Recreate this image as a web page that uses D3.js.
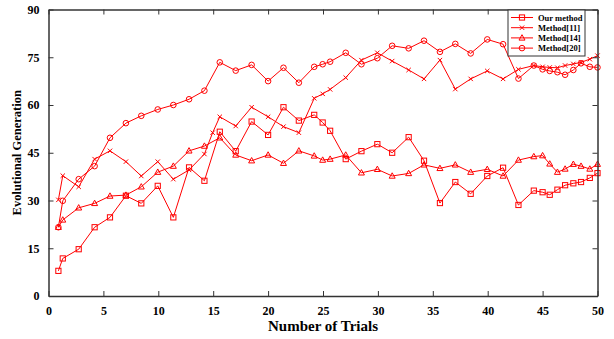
<!DOCTYPE html>
<html><head><meta charset="utf-8">
<script src="https://cdn.jsdelivr.net/npm/d3@7"></script>
<style>body{margin:0;background:#fff}svg{display:block}</style>
</head><body>
<svg id="c" width="614" height="339"></svg>
<script>
const trials = [0.9,1.3,2.75,4.2,5.6,7.05,8.45,9.95,11.37,12.8,14.2,15.6,17.05,18.5,20.0,21.4,22.8,24.2,24.97,25.65,27.07,28.5,29.95,31.3,32.8,34.2,35.65,37.05,38.45,39.96,41.4,42.8,44.2,45.0,45.65,46.35,47.05,47.8,48.5,49.3,50.0];
const trials11 = [0.9,1.3,2.75,4.2,5.6,7.05,8.45,9.95,11.37,12.8,14.2,14.95,15.6,17.05,18.5,20.0,21.4,22.8,24.2,24.97,25.65,27.07,28.5,29.95,31.3,32.8,34.2,35.65,37.05,38.45,39.96,41.4,42.8,44.2,45.0,45.65,46.35,47.05,47.8,48.5,49.3,50.0];
const ourMethod = [7.9,11.8,14.7,21.6,24.7,31.5,29.1,34.6,24.7,40.4,36.2,51.6,45.5,54.8,50.6,59.3,55.1,56.9,54.5,51.9,43.0,45.5,47.7,45.0,49.9,42.5,29.2,35.8,32.1,37.7,40.3,28.6,33.1,32.6,31.8,33.4,34.8,35.4,35.8,37.1,38.6];
const method11 = [30.2,37.8,34.3,43.0,45.6,42.2,37.7,42.2,36.7,39.6,44.6,51.3,56.3,53.4,59.3,56.3,53.2,51.3,62.1,63.5,64.9,68.6,74.1,76.4,73.8,71.0,68.2,74.1,65.0,68.2,70.7,68.2,71.2,72.4,72.0,71.8,71.7,72.4,72.9,73.4,74.4,75.5];
const method14 = [21.6,23.9,27.7,29.1,31.4,31.7,34.3,38.9,40.8,45.6,47.1,49.7,44.3,42.5,44.3,41.7,45.6,44.0,42.7,43.0,44.3,38.7,39.8,37.7,38.5,41.2,40.1,41.2,38.9,39.8,37.7,42.7,43.8,44.1,41.5,38.9,39.9,41.4,40.8,39.9,41.4];
const method20 = [21.6,29.9,36.7,40.8,49.7,54.3,56.6,58.6,60.0,61.8,64.5,73.4,70.8,72.6,67.5,71.7,67.0,72.0,72.8,73.6,76.4,72.8,74.7,78.6,77.8,80.2,76.7,79.2,76.2,80.6,79.1,68.3,72.4,71.2,70.7,70.3,69.5,71.0,73.1,72.0,71.8];
const seriesNames = ["Our method","Method[11]","Method[14]","Method[20]"];
const xTicks = [0,5,10,15,20,25,30,35,40,45,50];
const yTicks = [0,15,30,45,60,75,90];

const svg = d3.select("#c");
const L=48.5, R=597.5, T=9.5, B=296;
const x = d3.scaleLinear().domain([0,50]).range([L,R]);
const y = d3.scaleLinear().domain([0,90]).range([B,T]);
const red = "#ff0000";
const font = "'Liberation Serif','Times New Roman',serif";

const series = [
  {name:seriesNames[0], xs:trials, ys:ourMethod, m:"square"},
  {name:seriesNames[1], xs:trials11, ys:method11, m:"cross"},
  {name:seriesNames[2], xs:trials, ys:method14, m:"triangle"},
  {name:seriesNames[3], xs:trials, ys:method20, m:"circle"}
];

function marker(g, type, cx, cy){
  if(type==="square") g.append("rect").attr("x",cx-2.6).attr("y",cy-2.6).attr("width",5.2).attr("height",5.2).attr("fill","none").attr("stroke",red).attr("stroke-width",1);
  else if(type==="circle") g.append("circle").attr("cx",cx).attr("cy",cy).attr("r",2.8).attr("fill","none").attr("stroke",red).attr("stroke-width",1);
  else if(type==="triangle") g.append("path").attr("d",`M${cx},${cy-3.2}L${cx+3},${cy+2.2}L${cx-3},${cy+2.2}Z`).attr("fill","none").attr("stroke",red).attr("stroke-width",1);
  else g.append("path").attr("d",`M${cx-2.2},${cy-2.2}L${cx+2.2},${cy+2.2}M${cx-2.2},${cy+2.2}L${cx+2.2},${cy-2.2}`).attr("stroke",red).attr("stroke-width",1);
}

const line = d3.line();
series.forEach(s=>{
  const pts = s.xs.map((v,i)=>[x(v), y(s.ys[i])]);
  svg.append("path").attr("d",line(pts)).attr("fill","none").attr("stroke",red).attr("stroke-width",1);
  const g = svg.append("g");
  pts.forEach(p=>marker(g,s.m,p[0],p[1]));
});

// axes with inward ticks
const frame = "#333";
const xa = svg.append("g").attr("transform",`translate(0,${B})`).call(d3.axisBottom(x).tickValues(xTicks).tickSizeInner(-5).tickSizeOuter(0).tickPadding(10));
const xt = svg.append("g").attr("transform",`translate(0,${T})`).call(d3.axisTop(x).tickValues(xTicks).tickSizeInner(-5).tickSizeOuter(0).tickFormat(""));
const yl = svg.append("g").attr("transform",`translate(${L},0)`).call(d3.axisLeft(y).tickValues(yTicks).tickSizeInner(-5).tickSizeOuter(0).tickPadding(9));
const yr = svg.append("g").attr("transform",`translate(${R},0)`).call(d3.axisRight(y).tickValues(yTicks).tickSizeInner(-5).tickSizeOuter(0).tickFormat(""));
[xa,xt,yl,yr].forEach(a=>{
  a.select(".domain").attr("stroke",frame).attr("stroke-width",1.5);
  a.selectAll(".tick line").attr("stroke",frame).attr("stroke-width",1);
  a.selectAll("text").attr("font-family",font).attr("font-weight","bold").attr("font-size",12).attr("fill","#000");
});

svg.append("text").attr("x",(L+R)/2).attr("y",331).attr("text-anchor","middle")
  .attr("font-family",font).attr("font-weight","bold").attr("font-size",15).text("Number of Trials");
svg.append("text").attr("transform",`translate(21,${(T+B)/2}) rotate(-90)`).attr("text-anchor","middle")
  .attr("font-family",font).attr("font-weight","bold").attr("font-size",12.5).text("Evolutional  Generation");

// legend
const lg = svg.append("g");
lg.append("rect").attr("x",508).attr("y",10).attr("width",77).attr("height",46).attr("fill","#fff").attr("stroke","#333").attr("stroke-width",1);
series.forEach((s,i)=>{
  const ly = 17.5 + i*10.2;
  lg.append("line").attr("x1",511).attr("x2",533).attr("y1",ly).attr("y2",ly).attr("stroke",red).attr("stroke-width",1);
  marker(lg,s.m,522,ly);
  lg.append("text").attr("x",538).attr("y",ly+3).attr("font-family",font).attr("font-weight","bold").attr("font-size",8.5).text(s.name);
});
</script>
</body></html>
